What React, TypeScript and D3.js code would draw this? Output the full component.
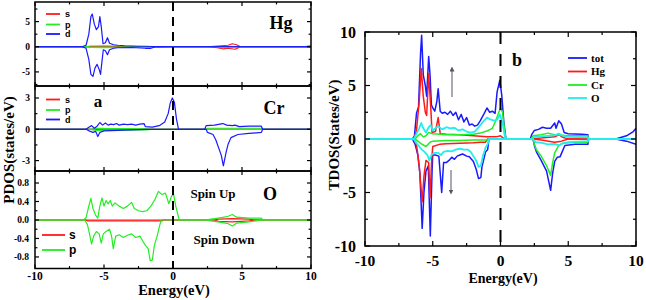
import React from "react";
import * as d3 from "d3";

type Pt = [number, number];

// ---------- PDOS data (Energy eV, states/eV) ----------
const hgS_up: Pt[] = [[-10,0],[2.5,0],[3.0,0.1],[3.5,0.2],[4.0,0.3],[4.3,0.6],[4.6,0.4],[4.9,0],[10,0]];
const hgS_dn: Pt[] = [[-10,0],[2.5,0],[3.2,-0.2],[3.6,-0.4],[4.0,-0.3],[4.5,-0.5],[4.9,0],[10,0]];
const hgP_up: Pt[] = [[-10,0],[-6.3,0],[-6.0,0.15],[-5.0,0.2],[-4.0,0.15],[-3.0,0.1],[-2.0,0.05],[-1.0,0],[9.5,0],[10,0.3]];
const hgP_dn: Pt[] = [[-10,0],[-6.3,0],[-6.0,-0.15],[-5.0,-0.2],[-4.0,-0.15],[-3.0,-0.1],[-2.0,-0.05],[-1.0,0],[10,0]];
const hgD_up: Pt[] = [[-10,0],[-6.6,0],[-6.3,0.3],[-6.1,2.5],[-5.95,6.0],[-5.85,6.5],[-5.7,4.5],[-5.55,3.4],[-5.4,4.0],[-5.3,6.0],[-5.2,4.0],[-5.07,0.6],[-4.9,0.8],[-4.75,1.8],[-4.6,0.7],[-4.3,0.4],[-4.0,0.3],[-3.5,0.2],[-3.0,0.15],[-2.5,0.1],[-2.0,0.1],[-1.5,0.05],[-1.0,0.02],[0,0],[10,0]];
const hgD_dn: Pt[] = [[-10,0],[-6.6,0],[-6.3,-0.3],[-6.1,-2.5],[-5.95,-5.5],[-5.8,-5.9],[-5.65,-4.2],[-5.5,-3.5],[-5.35,-4.5],[-5.25,-5.5],[-5.15,-3.0],[-5.05,-0.6],[-4.9,-0.8],[-4.75,-1.6],[-4.6,-0.6],[-4.3,-0.3],[-4.0,-0.2],[-3.0,-0.15],[-2.0,-0.3],[-1.6,-0.3],[-1.3,-0.05],[0,0],[10,0]];

const crS_up: Pt[] = [[-10,0],[-6,0],[-5.5,0.03],[-4,0.02],[-2,0],[10,0]];
const crS_dn: Pt[] = [[-10,0],[-6,0],[-5.5,-0.03],[-4,-0.02],[-2,0],[10,0]];
const crP_up: Pt[] = [[-10,0],[-6,0],[-5.5,0.1],[-5,0.08],[-2,0.05],[-1.5,0],[2.4,0],[2.5,0.1],[6.4,0.1],[6.5,0],[10,0]];
const crP_dn: Pt[] = [[-10,0],[-6,0],[-5.5,-0.1],[-5,-0.08],[-2,-0.05],[-1.5,0],[10,0]];
const crD_up: Pt[] = [[-10,0],[-6.3,0],[-6.1,0.2],[-5.9,0.35],[-5.7,0.1],[-5.5,0.3],[-5.3,0.65],[-5.1,0.4],[-4.9,0.6],[-4.7,0.4],[-4.5,0.5],[-4.3,0.45],[-4.1,0.55],[-3.9,0.4],[-3.6,0.5],[-3.3,0.45],[-3.0,0.5],[-2.7,0.4],[-2.4,0.5],[-2.1,0.55],[-2.0,0.25],[-1.5,0.2],[-1.0,0.35],[-0.6,0.7],[-0.35,1.5],[-0.2,2.5],[-0.05,3.0],[0.1,2.6],[0.25,1.0],[0.4,0],[2.3,0],[2.4,0.35],[3.0,0.4],[3.4,0.5],[3.6,0.55],[3.9,0.4],[4.3,0.35],[4.5,0.4],[4.8,0.25],[5.5,0.3],[6.4,0.3],[6.5,0],[10,0]];
const crD_dn: Pt[] = [[-10,0],[-6.3,0],[-6.0,-0.2],[-5.8,-0.3],[-5.6,-0.2],[-5.45,-0.7],[-5.3,-0.3],[-5.0,-0.15],[-4.0,-0.1],[-3.0,-0.05],[-2.0,0],[2.4,0],[2.5,-0.3],[2.9,-0.5],[3.1,-1.0],[3.5,-2.5],[3.65,-3.5],[3.85,-2.2],[4.0,-1.4],[4.2,-0.8],[4.7,-0.5],[5.5,-0.4],[6.4,-0.3],[6.5,0],[10,0]];

const oS_up: Pt[] = [[-10,0],[3.0,0],[3.3,0.02],[4.3,0.03],[5.5,0.02],[6,0],[10,0]];
const oS_dn: Pt[] = [[-10,0],[-6.3,0],[-6.2,-0.02],[-0.8,-0.02],[-0.7,0],[3.0,0],[3.3,-0.03],[4.3,-0.04],[5.5,-0.02],[6,0],[10,0]];
const oP_up: Pt[] = [[-10,0],[-6.5,0],[-6.3,0.05],[-6.1,0.3],[-5.95,0.47],[-5.8,0.25],[-5.6,0.1],[-5.45,0.04],[-5.3,0.3],[-5.15,0.48],[-5.0,0.3],[-4.85,0.42],[-4.7,0.35],[-4.55,0.42],[-4.4,0.3],[-4.2,0.37],[-3.9,0.3],[-3.6,0.25],[-3.3,0.3],[-3.0,0.38],[-2.8,0.25],[-2.5,0.2],[-2.2,0.18],[-1.9,0.2],[-1.6,0.3],[-1.3,0.45],[-1.05,0.62],[-0.8,0.55],[-0.55,0.58],[-0.3,0.35],[-0.1,0.52],[0.05,0.55],[0.2,0.3],[0.45,0],[2.3,0],[3.0,0.03],[3.5,0.05],[4.0,0.08],[4.3,0.12],[4.6,0.06],[5.5,0.04],[6.4,0.04],[6.5,0],[10,0]];
const oP_dn: Pt[] = [[-10,0],[-6.4,0],[-6.2,-0.1],[-6.05,-0.3],[-5.9,-0.52],[-5.75,-0.35],[-5.55,-0.25],[-5.35,-0.3],[-5.2,-0.5],[-5.05,-0.3],[-4.85,-0.25],[-4.6,-0.2],[-4.45,-0.35],[-4.33,-0.62],[-4.15,-0.35],[-3.9,-0.32],[-3.6,-0.38],[-3.3,-0.33],[-3.0,-0.3],[-2.7,-0.38],[-2.4,-0.35],[-2.2,-0.45],[-2.0,-0.55],[-1.8,-0.62],[-1.65,-0.88],[-1.5,-0.87],[-1.35,-0.55],[-1.15,-0.35],[-0.95,-0.1],[-0.85,0],[2.3,0],[3.0,-0.03],[3.5,-0.05],[4.0,-0.08],[4.3,-0.13],[4.6,-0.07],[5.5,-0.04],[6.5,0],[10,0]];

// ---------- TDOS data ----------
const tot_up: Pt[] = [[-10,0],[-6.5,0],[-6.35,0.3],[-6.2,2.4],[-6.05,3.0],[-5.9,8.0],[-5.82,9.7],[-5.7,6.0],[-5.55,5.0],[-5.45,4.0],[-5.3,7.7],[-5.2,6.0],[-5.1,3.2],[-5.0,2.9],[-4.85,2.6],[-4.7,3.5],[-4.6,4.7],[-4.45,2.6],[-4.3,2.4],[-4.1,2.5],[-3.9,2.3],[-3.7,2.6],[-3.5,2.2],[-3.3,2.5],[-3.1,1.8],[-2.9,2.3],[-2.7,1.6],[-2.5,2.0],[-2.3,1.3],[-2.1,1.4],[-1.9,1.2],[-1.7,1.3],[-1.5,1.7],[-1.2,2.4],[-1.0,2.9],[-0.8,2.5],[-0.6,2.6],[-0.4,2.4],[-0.25,4.4],[-0.05,5.5],[0.1,4.0],[0.25,1.5],[0.4,0],[2.2,0],[2.3,0.4],[2.5,0.8],[2.8,0.9],[3.1,1.1],[3.4,1.0],[3.7,1.0],[4.0,1.5],[4.1,1.0],[4.3,1.7],[4.5,1.4],[4.7,0.6],[5.0,0.5],[6.0,0.45],[6.45,0.4],[6.5,0],[8.5,0],[9.3,0.3],[9.8,0.7],[10,1.0]];
const hg_up: Pt[] = [[-10,0],[-6.4,0],[-6.2,0.8],[-6.0,3.5],[-5.85,6.6],[-5.7,4.0],[-5.55,2.5],[-5.45,2.2],[-5.3,6.1],[-5.15,3.0],[-5.05,0.6],[-4.8,0.7],[-4.6,2.0],[-4.45,0.5],[-4.0,0.45],[-3.0,0.4],[-2.0,0.3],[-1.0,0.2],[-0.3,0.2],[0,0.3],[0.3,0],[2.3,0],[3.0,0.1],[4.0,0.2],[4.3,0.4],[4.6,0.15],[5.0,0],[10,0]];
const cr_up: Pt[] = [[-10,0],[-6.3,0],[-6.1,0.3],[-5.9,0.5],[-5.7,0.2],[-5.5,0.3],[-5.3,0.6],[-5.0,0.5],[-4.5,0.45],[-4.0,0.4],[-3.0,0.4],[-2.0,0.45],[-1.5,0.55],[-1.0,0.75],[-0.6,1.0],[-0.35,1.7],[-0.15,2.4],[0.0,2.9],[0.15,2.5],[0.3,0.8],[0.4,0],[2.3,0],[2.4,0.3],[3.0,0.4],[3.5,0.55],[4.0,0.4],[4.5,0.35],[5.0,0.3],[6.45,0.3],[6.5,0],[10,0]];
const o_up: Pt[] = [[-10,0],[-6.4,0],[-6.2,0.5],[-6.0,1.0],[-5.85,1.5],[-5.7,1.0],[-5.5,0.6],[-5.3,1.1],[-5.15,1.3],[-5.0,0.8],[-4.8,1.0],[-4.6,1.2],[-4.3,0.9],[-4.0,1.1],[-3.7,1.0],[-3.4,1.05],[-3.1,0.8],[-2.8,0.9],[-2.5,0.7],[-2.2,0.6],[-1.9,0.7],[-1.6,1.1],[-1.3,1.6],[-1.0,2.0],[-0.7,1.8],[-0.4,1.7],[-0.2,1.9],[-0.05,2.3],[0.15,1.5],[0.35,0],[2.3,0],[2.5,0.2],[3.0,0.25],[3.5,0.3],[4.0,0.35],[4.3,0.5],[4.6,0.3],[5.0,0.2],[6.45,0.15],[6.5,0],[10,0]];
const tot_dn: Pt[] = [[-10,0],[-6.5,0],[-6.3,-0.5],[-6.1,-1.5],[-5.95,-3.2],[-5.78,-8.35],[-5.65,-5.0],[-5.5,-3.0],[-5.33,-2.5],[-5.18,-9.07],[-5.05,-3.0],[-5.0,-1.5],[-4.8,-1.5],[-4.55,-1.6],[-4.34,-5.0],[-4.2,-2.2],[-4.0,-2.2],[-3.8,-2.0],[-3.6,-1.7],[-3.4,-1.9],[-3.2,-1.6],[-3.0,-1.5],[-2.8,-1.4],[-2.5,-1.6],[-2.3,-1.65],[-2.0,-2.1],[-1.8,-2.8],[-1.62,-3.7],[-1.45,-3.6],[-1.37,-2.6],[-1.1,-1.2],[-0.95,-1.0],[-0.85,0],[2.4,0],[2.5,-0.6],[2.65,-1.2],[3.0,-2.0],[3.4,-3.0],[3.7,-4.8],[3.85,-3.2],[4.0,-2.1],[4.2,-1.7],[4.4,-1.65],[4.55,-1.2],[4.75,-0.6],[5.5,-0.5],[6.45,-0.5],[6.5,0],[8.5,0],[9.3,-0.2],[10,-0.5]];
const hg_dn: Pt[] = [[-10,0],[-6.4,0],[-6.2,-0.5],[-6.0,-2.5],[-5.78,-5.86],[-5.65,-3.5],[-5.5,-2.0],[-5.3,-2.2],[-5.2,-5.5],[-5.08,-2.0],[-5.0,-0.7],[-4.5,-0.5],[-4.0,-0.45],[-3.0,-0.4],[-2.0,-0.35],[-1.5,-0.3],[-1.1,-0.3],[-0.95,0],[2.4,0],[3.0,-0.1],[4.0,-0.3],[4.5,-0.2],[5.0,0],[10,0]];
const cr_dn: Pt[] = [[-10,0],[-6.3,0],[-6.1,-0.2],[-5.9,-0.4],[-5.5,-0.7],[-5.2,-0.3],[-5.0,-0.2],[-4.0,-0.15],[-3.0,-0.15],[-2.0,-0.1],[-1.0,-0.1],[-0.9,0],[2.4,0],[2.5,-0.5],[2.65,-1.0],[3.0,-1.6],[3.4,-2.5],[3.7,-3.4],[3.85,-2.2],[4.0,-1.3],[4.3,-0.6],[4.6,-0.4],[5.5,-0.3],[6.45,-0.3],[6.5,0],[10,0]];
const o_dn: Pt[] = [[-10,0],[-6.4,0],[-6.2,-0.4],[-6.0,-0.7],[-5.8,-1.0],[-5.6,-1.2],[-5.4,-1.5],[-5.25,-2.0],[-5.1,-1.5],[-4.9,-1.3],[-4.6,-1.3],[-4.4,-1.5],[-4.2,-1.2],[-3.9,-1.1],[-3.6,-1.15],[-3.3,-1.0],[-3.0,-0.9],[-2.7,-1.0],[-2.4,-1.0],[-2.2,-1.2],[-2.0,-1.6],[-1.8,-2.0],[-1.62,-2.6],[-1.45,-2.5],[-1.3,-1.6],[-1.1,-0.8],[-0.95,-0.5],[-0.85,0],[2.4,0],[2.6,-0.3],[3.0,-0.35],[3.5,-0.5],[4.0,-0.45],[4.3,-0.6],[4.6,-0.4],[5.0,-0.3],[6.45,-0.2],[6.5,0],[10,0]];

// ---------- ticks / labels ----------
const xTicksMajor = [-10, -5, 0, 5, 10];
const xTicksMinor = [-7.5, -2.5, 2.5, 7.5];
const hgYTicks = [-5, 0, 5];
const hgYMinor = [-7.5, -2.5, 2.5, 7.5];
const crYTicks = [-3, 0, 3];
const crYMinor = [-1.5, 1.5];
const oYTicks = [-0.8, -0.4, 0.0, 0.4, 0.8];
const oYMinor = [-0.6, -0.2, 0.2, 0.6];
const tYTicks = [-10, -5, 0, 5, 10];
const tYMinor = [-7.5, -2.5, 2.5, 7.5];
const pdosLegend = ["s", "p", "d"];
const tdosLegend = ["tot", "Hg", "Cr", "O"];

const RED = "#ff1a1a";
const GREEN = "#22ee22";
const BLUE = "#1a1aff";
const CYAN = "#22eeee";
const SERIF = "'Liberation Serif', 'Times New Roman', serif";
const SANS = "'Liberation Sans', Arial, sans-serif";

type PanelProps = {
  x: d3.ScaleLinear<number, number>;
  y: d3.ScaleLinear<number, number>;
  series: { data: Pt[]; color: string; w?: number }[];
  yTicks: number[];
  yMinor: number[];
  yFmt: (v: number) => string;
  xMajor: number[];
  xMinor: number[];
  tickLen: number;
  yFont: number;
  yLabelX: number;
  dash: string;
  id: string;
};

function Panel(p: PanelProps) {
  const [x0, x1] = p.x.range();
  const [y1, y0] = p.y.range();
  const line = d3.line<Pt>().x((d) => p.x(d[0])).y((d) => p.y(d[1]));
  const T = p.tickLen;
  return (
    <g>
      <defs>
        <clipPath id={p.id}>
          <rect x={x0} y={y0} width={x1 - x0} height={y1 - y0} />
        </clipPath>
      </defs>
      <g clipPath={`url(#${p.id})`}>
        {p.series.map((s, i) => (
          <path key={i} d={line(s.data) || ""} fill="none" stroke={s.color} strokeWidth={s.w ?? 1.2} strokeLinejoin="round" />
        ))}
      </g>
      <line x1={p.x(0)} x2={p.x(0)} y1={y0} y2={y1} stroke="#000" strokeWidth={2} strokeDasharray={p.dash} />
      {p.xMajor.map((t) => (
        <g key={"xm" + t}>
          <line x1={p.x(t)} x2={p.x(t)} y1={y1} y2={y1 - T} stroke="#000" strokeWidth={1.2} />
          <line x1={p.x(t)} x2={p.x(t)} y1={y0} y2={y0 + T} stroke="#000" strokeWidth={1.2} />
        </g>
      ))}
      {p.xMinor.map((t) => (
        <g key={"xn" + t}>
          <line x1={p.x(t)} x2={p.x(t)} y1={y1} y2={y1 - T * 0.6} stroke="#000" strokeWidth={1.2} />
          <line x1={p.x(t)} x2={p.x(t)} y1={y0} y2={y0 + T * 0.6} stroke="#000" strokeWidth={1.2} />
        </g>
      ))}
      {p.yTicks.map((t) => (
        <g key={"ym" + t}>
          <line x1={x0} x2={x0 + T} y1={p.y(t)} y2={p.y(t)} stroke="#000" strokeWidth={1.2} />
          <line x1={x1} x2={x1 - T} y1={p.y(t)} y2={p.y(t)} stroke="#000" strokeWidth={1.2} />
          <text x={p.yLabelX} y={p.y(t)} dy="0.35em" textAnchor="end" fontFamily={SERIF} fontWeight="bold" fontSize={p.yFont}>
            {p.yFmt(t)}
          </text>
        </g>
      ))}
      {p.yMinor.map((t) => (
        <g key={"yn" + t}>
          <line x1={x0} x2={x0 + T * 0.6} y1={p.y(t)} y2={p.y(t)} stroke="#000" strokeWidth={1.2} />
          <line x1={x1} x2={x1 - T * 0.6} y1={p.y(t)} y2={p.y(t)} stroke="#000" strokeWidth={1.2} />
        </g>
      ))}
      <rect x={x0} y={y0} width={x1 - x0} height={y1 - y0} fill="none" stroke="#000" strokeWidth={1.5} />
    </g>
  );
}

function Legend({ labels, colors, x, ys, len, font, size, gap }: { labels: string[]; colors: string[]; x: number; ys: number[]; len: number; font: string; size: number; gap: number }) {
  return (
    <g>
      {labels.map((l, i) => (
        <g key={l}>
          <line x1={x} x2={x + len} y1={ys[i]} y2={ys[i]} stroke={colors[i]} strokeWidth={1.8} />
          <text x={x + len + gap} y={ys[i]} dy="0.35em" fontFamily={font} fontWeight="bold" fontSize={size}>{l}</text>
        </g>
      ))}
    </g>
  );
}

export default function App() {
  const xL = d3.scaleLinear().domain([-10, 10]).range([35, 311]);
  const y1 = d3.scaleLinear().domain([-7.8, 8.9]).range([86, 2]);
  const y2 = d3.scaleLinear().domain([-4.0, 4.15]).range([171, 86]);
  const y3 = d3.scaleLinear().domain([-1.05, 1.06]).range([268.5, 171]);
  const xR = d3.scaleLinear().domain([-10, 10]).range([365, 636]);
  const yR = d3.scaleLinear().domain([-10, 10]).range([246, 32]);
  const fmtInt = (v: number) => d3.format("d")(v).replace("−", "-");
  const fmt1 = (v: number) => d3.format(".1f")(v).replace("−", "-");

  return (
    <svg width={646} height={300} style={{ position: "absolute", left: 0, top: 0, background: "#fff" }}>
      <rect width={646} height={300} fill="#fff" />
      <Panel id="c1" x={xL} y={y1} tickLen={4} yFont={9.5} yLabelX={30} dash="9,6"
        series={[{ data: hgS_up, color: RED }, { data: hgS_dn, color: RED }, { data: hgP_up, color: GREEN }, { data: hgP_dn, color: GREEN }, { data: hgD_up, color: BLUE }, { data: hgD_dn, color: BLUE }]}
        yTicks={hgYTicks} yMinor={hgYMinor} yFmt={fmtInt} xMajor={xTicksMajor} xMinor={xTicksMinor} />
      <Panel id="c2" x={xL} y={y2} tickLen={4} yFont={9.5} yLabelX={30} dash="9,6"
        series={[{ data: crS_up, color: RED }, { data: crS_dn, color: RED }, { data: crP_up, color: GREEN }, { data: crP_dn, color: GREEN }, { data: crD_up, color: BLUE }, { data: crD_dn, color: BLUE }]}
        yTicks={crYTicks} yMinor={crYMinor} yFmt={fmtInt} xMajor={xTicksMajor} xMinor={xTicksMinor} />
      <Panel id="c3" x={xL} y={y3} tickLen={4} yFont={9.5} yLabelX={29} dash="9,6"
        series={[{ data: oS_up, color: RED }, { data: oS_dn, color: RED }, { data: oP_up, color: GREEN }, { data: oP_dn, color: GREEN }]}
        yTicks={oYTicks} yMinor={oYMinor} yFmt={fmt1} xMajor={xTicksMajor} xMinor={xTicksMinor} />
      {xTicksMajor.map((t) => (
        <text key={"lx" + t} x={xL(t)} y={279.5} textAnchor="middle" fontFamily={SERIF} fontWeight="bold" fontSize={11.5}>{fmtInt(t)}</text>
      ))}
      <text x={174} y={294.5} textAnchor="middle" fontFamily={SERIF} fontWeight="bold" fontSize={14.5}>Energy(eV)</text>
      <text transform="translate(14,150) rotate(-90)" textAnchor="middle" fontFamily={SERIF} fontWeight="bold" fontSize={15}>PDOS(states/eV)</text>

      <Legend labels={pdosLegend} colors={[RED, GREEN, BLUE]} x={46} ys={[14, 24.5, 34]} len={14} gap={5} font={SANS} size={9} />
      <Legend labels={pdosLegend} colors={[RED, GREEN, BLUE]} x={46} ys={[99.5, 110, 119.5]} len={14} gap={5} font={SANS} size={9} />
      <Legend labels={["s", "p"]} colors={[RED, GREEN]} x={42} ys={[235, 250]} len={23} gap={4} font={SANS} size={12} />

      <text x={281} y={29} textAnchor="middle" fontFamily={SERIF} fontWeight="bold" fontSize={18}>Hg</text>
      <text x={98} y={107} textAnchor="middle" fontFamily={SERIF} fontWeight="bold" fontSize={17}>a</text>
      <text x={274} y={114} textAnchor="middle" fontFamily={SERIF} fontWeight="bold" fontSize={18}>Cr</text>
      <text x={213} y={198} textAnchor="middle" fontFamily={SERIF} fontWeight="bold" fontSize={13}>Spin Up</text>
      <text x={270} y={200} textAnchor="middle" fontFamily={SERIF} fontWeight="bold" fontSize={18}>O</text>
      <text x={224} y={244} textAnchor="middle" fontFamily={SERIF} fontWeight="bold" fontSize={13}>Spin Down</text>

      <Panel id="c4" x={xR} y={yR} tickLen={5} yFont={16} yLabelX={356} dash="12,10"
        series={[{ data: tot_up, color: BLUE, w: 1.5 }, { data: tot_dn, color: BLUE, w: 1.5 }, { data: hg_up, color: RED, w: 1.5 }, { data: hg_dn, color: RED, w: 1.5 }, { data: cr_up, color: GREEN, w: 1.5 }, { data: cr_dn, color: GREEN, w: 1.5 }, { data: o_up, color: CYAN, w: 1.8 }, { data: o_dn, color: CYAN, w: 1.8 }]}
        yTicks={tYTicks} yMinor={tYMinor} yFmt={fmtInt} xMajor={xTicksMajor} xMinor={xTicksMinor} />
      {xTicksMajor.map((t) => (
        <text key={"rx" + t} x={xR(t)} y={266} textAnchor="middle" fontFamily={SERIF} fontWeight="bold" fontSize={15.5}>{fmtInt(t)}</text>
      ))}
      <text x={503} y={283} textAnchor="middle" fontFamily={SERIF} fontWeight="bold" fontSize={14}>Energy(eV)</text>
      <text transform="translate(339,135) rotate(-90)" textAnchor="middle" fontFamily={SERIF} fontWeight="bold" fontSize={15}>TDOS(States/eV)</text>
      <Legend labels={tdosLegend} colors={[BLUE, RED, GREEN, CYAN]} x={568} ys={[58, 71.5, 85, 98]} len={19} gap={4} font={SERIF} size={11} />
      <text x={517} y={66} textAnchor="middle" fontFamily={SERIF} fontWeight="bold" fontSize={18}>b</text>

      <defs>
        <marker id="ah" viewBox="0 0 6 6" refX="3" refY="3" markerWidth="5" markerHeight="5" orient="auto">
          <path d="M0,0 L6,3 L0,6 Z" fill="#556" />
        </marker>
      </defs>
      <line x1={452} x2={452} y1={97} y2={69} stroke="#556" strokeWidth={1} markerEnd="url(#ah)" />
      <line x1={451} x2={451} y1={170} y2={192} stroke="#556" strokeWidth={1} markerEnd="url(#ah)" />
    </svg>
  );
}
